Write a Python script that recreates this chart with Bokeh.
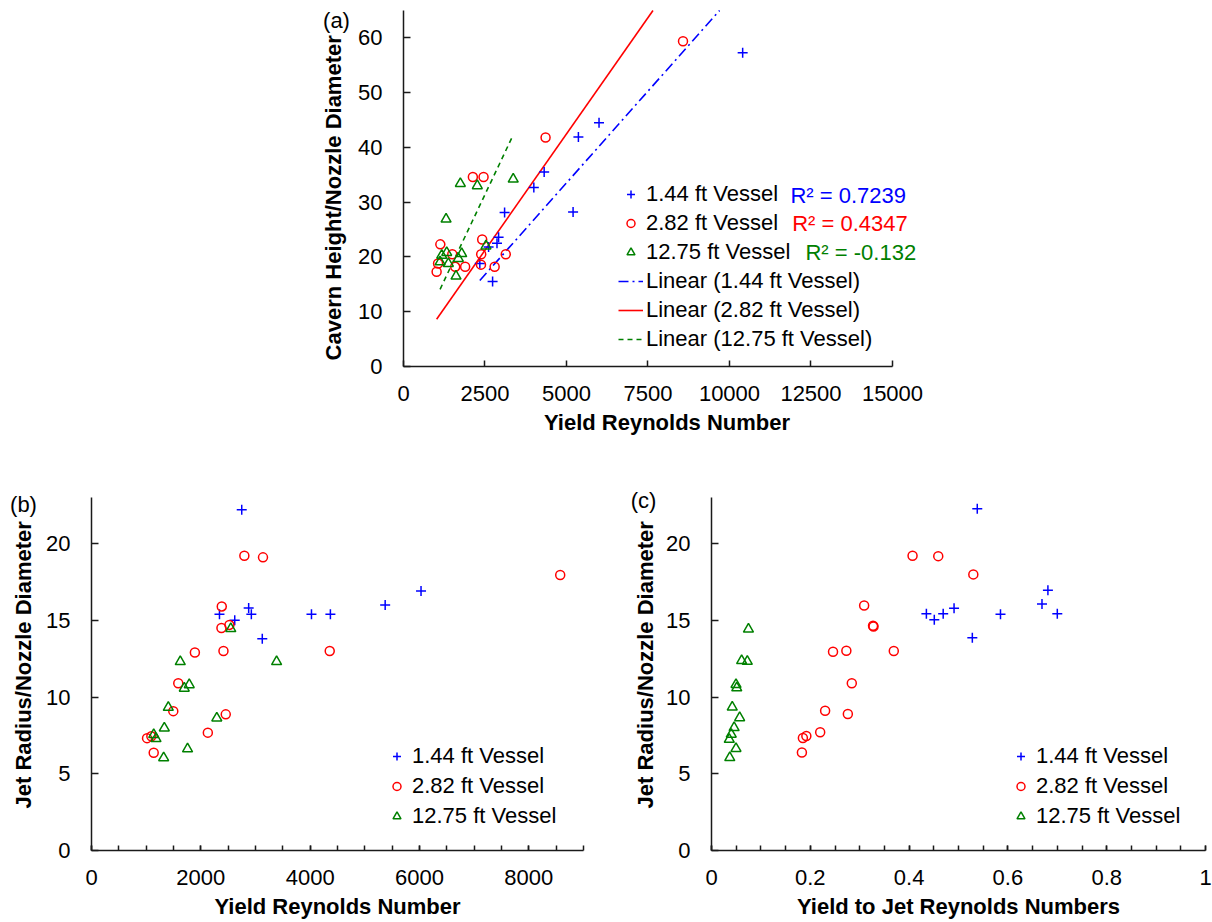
import numpy as np
from bokeh.plotting import figure
from bokeh.models import (FixedTicker, Label, Legend, LegendItem, Range1d, Spacer,
                          CustomJSTickFormatter)
from bokeh.layouts import column, row
from bokeh.embed import file_html
from bokeh.resources import INLINE

# ---------------- data ----------------
# Panel (a): cavern height / nozzle diameter vs yield Reynolds number
a_re_144 = [10404, 5998, 5365, 4315, 3998, 5202, 3101, 2917, 2868, 2610, 2733, 2341]
a_h_144 = [57.3, 44.5, 41.9, 35.5, 32.7, 28.2, 28.1, 23.6, 22.5, 21.8, 15.5, 18.8]
a_re_282 = [8574, 4358, 2128, 2456, 1130, 2414, 1496, 2383, 3137, 1016, 1060, 1587, 1891, 2377, 2796]
a_h_282 = [59.4, 41.8, 34.6, 34.6, 22.3, 23.2, 20.5, 20.5, 20.5, 17.3, 18.8, 18.2, 18.2, 18.6, 18.2]
a_re_1275 = [3366, 1744, 2264, 1306, 2530, 1326, 1785, 1173, 1122, 1377, 1683, 1611]
a_h_1275 = [34.2, 33.4, 33.0, 26.9, 22.0, 20.8, 20.6, 20.3, 19.1, 18.8, 19.7, 16.5]
a_r2_labels = ["R\u00b2 = 0.7239", "R\u00b2 = 0.4347", "R\u00b2 = -0.132"]

# Panel (b): jet radius / nozzle diameter vs yield Reynolds number
b_re_144 = [2748, 2341, 2620, 2875, 2924, 3124, 4024, 4370, 5372, 6028]
b_r_144 = [22.2, 15.4, 15.0, 15.8, 15.4, 13.8, 15.4, 15.4, 16.0, 16.9]
b_re_282 = [2796, 3137, 8574, 2383, 2377, 2523, 1891, 2414, 4358, 1587, 1496, 2456, 2128, 1016, 1095, 1138]
b_r_282 = [19.2, 19.1, 17.95, 15.9, 14.5, 14.7, 12.9, 13.0, 13.0, 10.9, 9.08, 8.87, 7.68, 7.32, 7.44, 6.37]
b_re_1275 = [2548, 3386, 1624, 1788, 1697, 1405, 2292, 1332, 1138, 1180, 1757, 1320]
b_r_1275 = [14.45, 12.3, 12.3, 10.8, 10.57, 9.32, 8.63, 7.98, 7.55, 7.29, 6.62, 6.04]

# Panel (c): jet radius / nozzle diameter vs yield-to-jet Reynolds number ratio
c_ratio_144 = [0.538, 0.435, 0.451, 0.469, 0.491, 0.528, 0.585, 0.669, 0.681, 0.700]
c_r_144 = [22.27, 15.42, 15.03, 15.42, 15.78, 13.86, 15.39, 16.06, 16.95, 15.42]
c_ratio_282 = [0.407, 0.459, 0.530, 0.309, 0.327, 0.328, 0.246, 0.273, 0.369, 0.284, 0.230, 0.276,
               0.220, 0.185, 0.192, 0.183]
c_r_282 = [19.2, 19.18, 17.99, 15.96, 14.64, 14.59, 12.95, 13.02, 13.0, 10.9, 9.1, 8.89,
           7.7, 7.33, 7.46, 6.38]
c_ratio_1275 = [0.0748, 0.061, 0.0725, 0.0496, 0.0511, 0.042, 0.057, 0.0458, 0.040, 0.036, 0.0496, 0.037]
c_r_1275 = [14.42, 12.37, 12.32, 10.81, 10.59, 9.34, 8.65, 8.0, 7.57, 7.24, 6.64, 6.05]

series_names = ["1.44 ft Vessel", "2.82 ft Vessel", "12.75 ft Vessel"]

a_xticks = [0, 2500, 5000, 7500, 10000, 12500, 15000]
a_yticks = [0, 10, 20, 30, 40, 50, 60]
a_ymax = 65
b_xticks = [0, 2000, 4000, 6000, 8000]
b_xminor = [500 * i for i in range(19)]
c_xticks = [0, 0.2, 0.4, 0.6, 0.8, 1]
c_xminor = [round(0.05 * i, 2) for i in range(21)]
bc_yticks = [0, 5, 10, 15, 20]
bc_ymax = 23

# ---------------- style ----------------
FONT = "Liberation Sans"
BLUE, RED, GREEN = "#0000FF", "#FF0000", "#008000"
COLORS = [BLUE, RED, GREEN]
MARKERS = ["cross", "circle", "triangle"]
SIZES = [10, 9, 10]
TXT = "#000000"
AX = "#1a1a1a"

# frame geometry: frames extend a little above the axis top (axis line is bounded)
A_FH, A_TOP, A_EXTRA = 366, 0, 10          # panel (a): axis spans 356 px
BC_FH, BC_TOP, BC_EXTRA = 373, 11, 20      # panels (b),(c): axis spans 353 px
a_yr = (0, a_ymax * A_FH / (A_FH - A_EXTRA))
bc_yr = (0, bc_ymax * BC_FH / (BC_FH - BC_EXTRA))


def style(p, xt, yt, ybounds, xminor=None, xtick_len=6, ytick_len=7, fmt=False):
    p.xgrid.visible = False
    p.ygrid.visible = False
    p.outline_line_color = None
    p.background_fill_color = "white"
    p.border_fill_color = "white"
    p.xaxis.ticker = FixedTicker(ticks=xt, minor_ticks=xminor or [])
    p.yaxis.ticker = FixedTicker(ticks=yt, minor_ticks=[])
    p.yaxis.bounds = ybounds
    for ax in (p.xaxis[0], p.yaxis[0]):
        ax.axis_line_color = AX
        ax.axis_line_width = 1.5
        ax.major_tick_line_color = AX
        ax.major_tick_line_width = 1.5
        ax.minor_tick_line_color = AX
        ax.minor_tick_line_width = 1.5
        ax.major_tick_out = 0
        ax.minor_tick_out = 0
        ax.minor_tick_in = 0
        ax.major_label_text_font = FONT
        ax.major_label_text_font_size = "22px"
        ax.major_label_text_color = TXT
        ax.axis_label_text_font = FONT
        ax.axis_label_text_font_size = "22px"
        ax.axis_label_text_font_style = "bold"
        ax.axis_label_text_color = TXT
    p.xaxis.major_tick_in = xtick_len
    p.yaxis.major_tick_in = ytick_len
    if xminor:
        p.xaxis.minor_tick_in = xtick_len
    p.xaxis.major_label_standoff = 19
    p.xaxis.axis_label_standoff = 6
    p.yaxis.major_label_standoff = 21
    if fmt:
        p.xaxis.formatter = CustomJSTickFormatter(code="return tick.toString();")


def scatter_series(p, xs_list, ys_list):
    for xs, ys, m, c, s in zip(xs_list, ys_list, MARKERS, COLORS, SIZES):
        p.scatter(xs, ys, marker=m, size=s, line_color=c, fill_color=None, line_width=1.5)


def legend_markers(p):
    # stand-in renderers (no visible data) so the legend can show smaller markers
    rs = []
    for m, c in zip(MARKERS, COLORS):
        rs.append(p.scatter([np.nan], [np.nan], marker=m, size=7, line_color=c,
                            fill_color=None, line_width=1.5))
    return rs


def make_legend(items, loc, spacing):
    return Legend(items=items, location=loc, padding=0, margin=0, spacing=spacing,
                  glyph_width=25, glyph_height=20, label_height=20, label_standoff=3,
                  label_text_font=FONT, label_text_font_size="22px", label_text_color=TXT,
                  border_line_color=None, background_fill_alpha=0)


def strip(w, fh, top, bottom, yrange, tag, tag_xy, title, title_xy):
    # narrow blank figure whose frame lines up with the panel frame; holds the
    # panel tag and the vertical axis title
    s = figure(frame_width=w, frame_height=fh, title=None, min_border_left=0, min_border_right=0,
               min_border_top=top, min_border_bottom=bottom, x_range=Range1d(0, w),
               y_range=Range1d(*yrange), x_axis_type=None, y_axis_type=None,
               toolbar_location=None, output_backend="svg", align="start")
    s.outline_line_color = None
    s.background_fill_color = "white"
    s.border_fill_color = "white"
    s.add_layout(Label(x=tag_xy[0], y=tag_xy[1], text=tag, text_color=TXT, text_font=FONT,
                       text_font_size="22px", text_align="center", text_baseline="middle"))
    s.add_layout(Label(x=title_xy[0], y=title_xy[1], text=title, text_color=TXT, text_font=FONT,
                       text_font_size="22px", text_font_style="bold", angle=np.pi / 2,
                       text_align="center", text_baseline="middle"))
    return s


# ---------------- panel (a) ----------------
pa = figure(frame_width=527, frame_height=A_FH, min_border_left=51, min_border_right=282,
            min_border_top=A_TOP, min_border_bottom=100, x_range=Range1d(0, 16166),
            y_range=Range1d(*a_yr), toolbar_location=None, output_backend="svg", align="start")
style(pa, a_xticks, a_yticks, (0, a_ymax), xtick_len=6, ytick_len=7)
pa.xaxis.bounds = (0, 15000)
pa.xaxis.axis_label = "Yield Reynolds Number"

a_x = [a_re_144, a_re_282, a_re_1275]
a_y = [a_h_144, a_h_282, a_h_1275]
dashes = ["10 4 2 4", "solid", "5 4"]
trend_renderers = []
for xs, ys, c, d in zip(a_x, a_y, COLORS, dashes):
    x = np.array(xs, dtype=float)
    y = np.array(ys, dtype=float)
    slope = np.sum(x * y) / np.sum(x * x)  # linear trendline with intercept set to 0
    tx = np.array([x.min(), min(x.max(), a_ymax / slope)])  # stop at the top of the axis
    trend_renderers.append(pa.line(tx, slope * tx, line_color=c, line_width=1.6, line_dash=d))
scatter_series(pa, a_x, a_y)
lm = legend_markers(pa)
items_a = [LegendItem(label=n, renderers=[r]) for n, r in zip(series_names, lm)]
items_a += [LegendItem(label="Linear (%s)" % n, renderers=[r]) for n, r in zip(series_names, trend_renderers)]
pa.add_layout(make_legend(items_a, (215, 14), 3))

for txt, c, xx, yy in zip(a_r2_labels, COLORS, [11871, 11923, 12331], [31.3, 26.1, 20.9]):
    pa.add_layout(Label(x=xx, y=yy, text=txt, text_color=c, text_font=FONT, text_font_size="22px",
                        text_baseline="middle", text_align="left"))

strip_a = strip(37, A_FH, A_TOP, 100, a_yr, "(a)", (21, 63.2),
                "Cavern Height/Nozzle Diameter", (18, 30.8))

# ---------------- panel (b) ----------------
pb = figure(frame_width=492, frame_height=BC_FH, min_border_left=51, min_border_right=42,
            min_border_top=BC_TOP, min_border_bottom=70, x_range=Range1d(0, 9000),
            y_range=Range1d(*bc_yr), toolbar_location=None, output_backend="svg", align="start")
style(pb, b_xticks, bc_yticks, (0, bc_ymax), xminor=b_xminor, xtick_len=5, ytick_len=7)
pb.xaxis.axis_label = "Yield Reynolds Number"
scatter_series(pb, [b_re_144, b_re_282, b_re_1275], [b_r_144, b_r_282, b_r_1275])
lmb = legend_markers(pb)
pb.add_layout(make_legend([LegendItem(label=n, renderers=[r]) for n, r in zip(series_names, lmb)],
                          (293, 21), 4))
strip_b = strip(40, BC_FH, BC_TOP, 70, bc_yr, "(b)", (23, 22.55),
                "Jet Radius/Nozzle Diameter", (23, 12.1))

# ---------------- panel (c) ----------------
pc = figure(frame_width=494, frame_height=BC_FH, min_border_left=51, min_border_right=7,
            min_border_top=BC_TOP, min_border_bottom=70, x_range=Range1d(0, 1),
            y_range=Range1d(*bc_yr), toolbar_location=None, output_backend="svg", align="start")
style(pc, c_xticks, bc_yticks, (0, bc_ymax), xminor=c_xminor, xtick_len=5, ytick_len=7, fmt=True)
pc.xaxis.axis_label = "Yield to Jet Reynolds Numbers"
scatter_series(pc, [c_ratio_144, c_ratio_282, c_ratio_1275], [c_r_144, c_r_282, c_r_1275])
lmc = legend_markers(pc)
pc.add_layout(make_legend([LegendItem(label=n, renderers=[r]) for n, r in zip(series_names, lmc)],
                          (297, 21), 4))
strip_c = strip(35, BC_FH, BC_TOP, 70, bc_yr, "(c)", (18, 22.8),
                "Jet Radius/Nozzle Diameter", (20, 12.1))

layout = column(row(Spacer(width=315, height=466, align="start"), strip_a, pa),
                row(strip_b, pb, strip_c, pc))
open("out.html", "w").write(file_html(layout, INLINE))
